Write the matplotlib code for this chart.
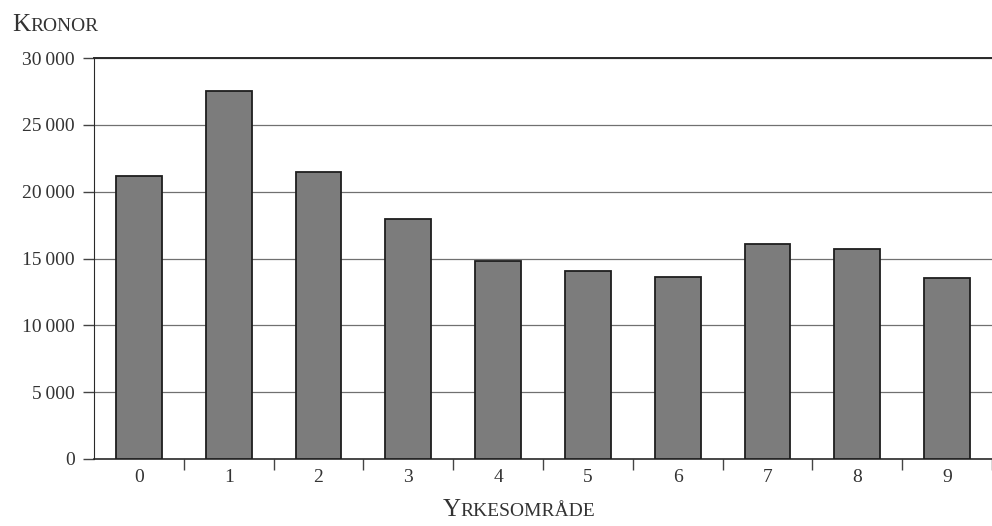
import matplotlib
matplotlib.use("Agg")
import matplotlib.pyplot as plt
from matplotlib.offsetbox import TextArea, HPacker, AnnotationBbox

plt.rcParams['font.family'] = ['Liberation Serif', 'DejaVu Serif']

categories = ['0', '1', '2', '3', '4', '5', '6', '7', '8', '9']
kronor = [21200, 27500, 21500, 17950, 14850, 14100, 13600, 16100, 15700, 13550]
y_ticks = [0, 5000, 10000, 15000, 20000, 25000, 30000]

txt = '#333333'

fig = plt.figure(figsize=(9.92, 5.26), dpi=100)
ax = fig.add_axes([0.0948, 0.1274, 0.9052, 0.7623])

x = list(range(len(categories)))
ax.bar(x, kronor, width=0.51, color='#7c7c7c', edgecolor='#1e1e1e', linewidth=1.3, zorder=3)

ax.set_ylim(0, 30000)
ax.set_xlim(-0.5, 9.41)
ax.set_yticks(y_ticks)
ax.set_yticklabels([f'{v:,}'.replace(',', '\u2009') for v in y_ticks])
ax.yaxis.grid(True, color='#707070', linewidth=0.9, zorder=0)

# category labels in the middle, ticks on the boundaries
ax.set_xticks([i + 0.5 for i in range(len(categories))])
ax.set_xticklabels([])
ax.set_xticks(x, minor=True)
ax.set_xticklabels(categories, minor=True)
ax.tick_params(axis='x', which='minor', length=0, pad=7, labelsize=14, labelcolor=txt)
ax.tick_params(axis='x', which='major', length=8, width=1, color='#444444', direction='out')
ax.tick_params(axis='y', length=8, width=1, color='#444444', labelsize=14, labelcolor=txt, pad=6)

ax.spines['right'].set_visible(False)
ax.spines['top'].set_linewidth(1.4)
ax.spines['top'].set_color('#2a2a2a')
ax.spines['left'].set_color('#2a2a2a')
ax.spines['bottom'].set_color('#2a2a2a')
ax.spines['bottom'].set_linewidth(1.2)


def small_caps(word, xy, big=18, small=14):
    box = HPacker(children=[TextArea(word[0], textprops=dict(size=big, color=txt)),
                            TextArea(word[1:], textprops=dict(size=small, color=txt))],
                  align='baseline', pad=0, sep=0)
    ab = AnnotationBbox(box, xy, xycoords='figure pixels', frameon=False,
                        box_alignment=(0.5, 0.5))
    fig.add_artist(ab)


small_caps('KRONOR', (55, 526 - 25))
small_caps('YRKESOMRÅDE', (519, 526 - 510))

fig.savefig('out.png', dpi=100)
